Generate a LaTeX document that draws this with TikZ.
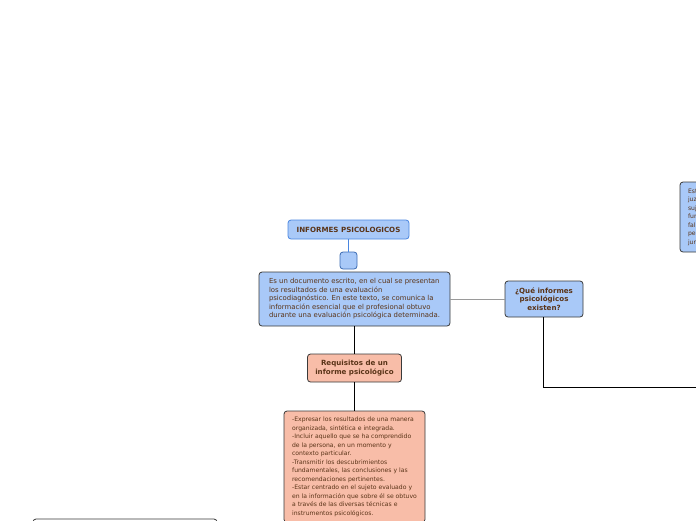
\documentclass[tikz,border=0pt]{standalone}
\usepackage{fontspec}
\setmainfont{DejaVu Sans}
\usetikzlibrary{positioning}
\definecolor{nodeblue}{HTML}{A9C9F8}
\definecolor{nodesalmon}{HTML}{F8BDA8}
\definecolor{edgedark}{HTML}{3A3A3A}
\definecolor{edgeblue}{HTML}{4A86E0}
\definecolor{edgegray}{HTML}{9A9A9A}
\definecolor{textbrown}{HTML}{5A3418}

\begin{document}
\begin{tikzpicture}[
    x=1pt, y=-1pt,
    box/.style={draw=edgedark, line width=0.8pt, rounded corners=3pt, text=textbrown,
                inner sep=0pt, outer sep=0pt, align=center},
    bluebox/.style={box, fill=nodeblue},
    salmonbox/.style={box, fill=nodesalmon},
    bodytext/.style={font=\fontsize{6.9}{8.5}\selectfont},
    smalltext/.style={font=\fontsize{6.1}{8.5}\selectfont},
    titletext/.style={font=\bfseries\fontsize{7.1}{8.6}\selectfont},
    link/.style={draw=black, line width=0.8pt},
]
\useasboundingbox (0,0) rectangle (696,520);
\clip (0,0) rectangle (696,520);

\node[bluebox, bodytext, align=left, minimum width=191pt, minimum height=54pt] (main) at (354.5,299)
  {Es un documento escrito, en el cual se presentan\\
   los resultados de una evaluación\\
   psicodiagnóstico. En este texto, se comunica la\\
   información esencial que el profesional obtuvo\\
   durante una evaluación psicológica determinada.};
\coordinate (knotfoot) at (348.5,272);
\node[bluebox, draw=edgeblue!80!black, minimum width=17pt, minimum height=17pt, above=3pt of knotfoot] (knot) {};
\node[bluebox, draw=edgeblue, titletext, minimum width=121pt, minimum height=19pt, above=13pt of knot] (title)
  {INFORMES PSICOLOGICOS};
\node[bluebox, titletext, minimum width=78pt, minimum height=36pt, right=55pt of main] (tipos)
  {¿Qué informes\\ psicológicos\\ existen?};
\node[salmonbox, titletext, minimum width=94pt, minimum height=28pt, below=28pt of main] (requisitos)
  {Requisitos de un\\ informe psicológico};
\node[salmonbox, smalltext, align=left, minimum width=141pt, inner ysep=6pt, below=29pt of requisitos] (lista)
  {-Expresar los resultados de una manera\\
   organizada, sintética e integrada.\\
   -Incluir aquello que se ha comprendido\\
   de la persona, en un momento y\\
   contexto particular.\\
   -Transmitir los descubrimientos\\
   fundamentales, las conclusiones y las\\
   recomendaciones pertinentes.\\
   -Estar centrado en el sujeto evaluado y\\
   en la información que sobre él se obtuvo\\
   a través de las diversas técnicas e\\
   instrumentos psicológicos.};
\node[bluebox, smalltext, align=left, anchor=north west, text width=140pt, inner xsep=8pt, minimum height=70pt] (forense) at (680,182)
  {Este informe es solicitado por el\\
   juzgado y se refiere al\\
   sujeto evaluado, con el fin de\\
   fundamentar la decisión del\\
   fallo; se elabora en el\\
   peritaje psicológico\\
   jurídico.};
\node[box, fill=white, anchor=north west, minimum width=184pt, minimum height=40pt] (pie) at (33,519) {};
\coordinate (tiposfoot) at (543,317);
\coordinate (salida) at (700,387);

\draw[draw=edgeblue, line width=0.8pt] (title) -- (knot);
\draw[draw=edgegray, line width=0.8pt] (main) -- (tipos);
\draw[link] (main.south -| requisitos) -- (requisitos);
\draw[link] (requisitos) -- (lista);
\draw[link] (tiposfoot) |- (salida);
\end{tikzpicture}
\end{document}
